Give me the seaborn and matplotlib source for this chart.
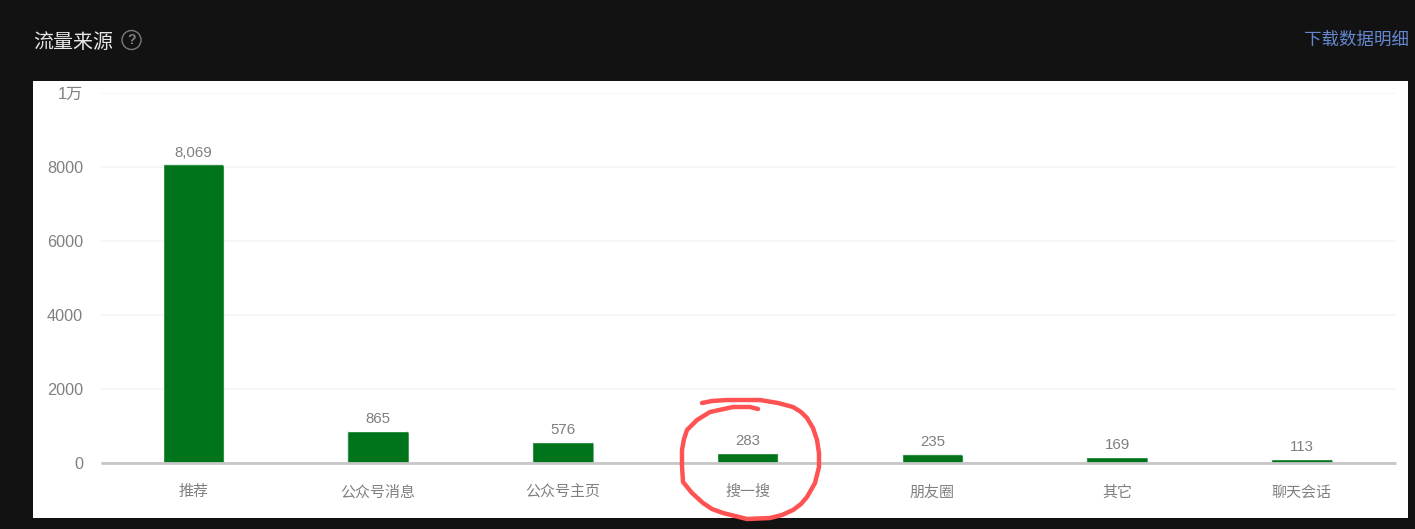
import matplotlib
matplotlib.use("Agg")
import matplotlib.pyplot as plt
import seaborn as sns
import pandas as pd
from matplotlib.patches import Rectangle, Circle, FancyBboxPatch
from matplotlib.transforms import Affine2D, IdentityTransform

# Data
categories = ["推荐", "公众号消息", "公众号主页", "搜一搜", "朋友圈", "其它", "聊天会话"]
values = [8069, 865, 576, 283, 235, 169, 113]
y_ticks = [0, 2000, 4000, 6000, 8000, 10000]
y_tick_labels = ["0", "2000", "4000", "6000", "8000", "1万"]
title_text = "流量来源"
link_text = "下载数据明细"

# Hand-drawn red circle annotation (screen pixels)
scribble_x = [702, 712, 727, 745, 760, 778, 793, 801, 807, 813, 817, 819, 819, 815, 807, 801, 793, 782, 770, 747,
              723, 712, 703, 692, 683, 682, 682, 684, 687, 697, 710, 733, 750, 758]
scribble_y = [403, 401, 400, 400, 400, 403, 407, 412, 418, 428, 440, 453, 467, 483, 497, 504, 510, 515, 518, 519,
              513, 509, 503, 493, 482, 466, 450, 439, 430, 420, 412, 407, 407, 409]

W, H = 1415, 529
sns.set_theme(style="white")
plt.rcParams["font.family"] = ["Liberation Sans", "Noto Sans CJK SC", "DejaVu Sans"]

BG = "#121212"
fig = plt.figure(figsize=(W / 100, H / 100), dpi=100, facecolor=BG)
px = Affine2D().scale(1, -1).translate(0, H)  # screen pixels, y downward

fig.add_artist(Rectangle((33, 81), 1375, 437, transform=px, facecolor="white", edgecolor="none", zorder=0))

ax = fig.add_axes([101 / W, (H - 463) / H, 1295 / W, 370 / H], facecolor="none", zorder=2)
df = pd.DataFrame({"source": categories, "count": values})
sns.barplot(data=df, x="source", y="count", color="#00741b", saturation=1, width=0.333, ax=ax, zorder=3)

ax.set_xlim(-0.5, 6.51)
ax.set_ylim(0, 10000)
ax.set_xlabel("")
ax.set_ylabel("")
ax.set_yticks(y_ticks, y_tick_labels)
ax.tick_params(axis="y", length=0, pad=13.0, labelsize=11.7, labelcolor="#80807f")
ax.tick_params(axis="x", length=0, pad=24.0, labelsize=10.8, labelcolor="#80807f")
for t in ax.get_xticklabels():
    t.set_verticalalignment("baseline")
ax.grid(axis="y", color="#f4f4f4", linewidth=1.1, zorder=0)
ax.grid(axis="x", visible=False)
for side in ["top", "left", "right"]:
    ax.spines[side].set_visible(False)
ax.spines["bottom"].set_color("#c6c6c6")
ax.spines["bottom"].set_linewidth(2.0)
ax.spines["bottom"].set_capstyle("butt")
ax.spines["bottom"].set_zorder(5)

ax.bar_label(ax.containers[0], fmt="{:,.0f}", padding=3.5, fontsize=10.8, color="#7f7f7f")

# Rounded top corners on the bars
fig.canvas.draw()
for bar in ax.containers[0]:
    bb = bar.get_window_extent()
    clip = FancyBboxPatch((bb.x0 + 2, bb.y0 - 8), bb.width - 4, bb.height + 6,
                          boxstyle="round,pad=2,rounding_size=3", transform=IdentityTransform())
    bar.set_clip_path(clip.get_path(), IdentityTransform())

# Header
fig.text(33, 42, title_text, transform=px, fontsize=14.4, color="#e6e6e6", va="center", ha="left")
fig.add_artist(Circle((131.5, 40), 9.5, transform=px, facecolor="none", edgecolor="#7a7a7a", linewidth=1.0))
fig.text(131.5, 40, "?", transform=px, fontsize=10, color="#808080", va="center", ha="center", fontweight="bold")
fig.text(1409, 40, link_text, transform=px, fontsize=12.6, color="#6487cf", va="center", ha="right")

# Red scribble
fig.add_artist(plt.Line2D(scribble_x, scribble_y, transform=px, color="#ff5252", linewidth=3.2,
                          solid_capstyle="round", solid_joinstyle="round", zorder=10))

fig.savefig("out.png", dpi=100, facecolor=BG)
